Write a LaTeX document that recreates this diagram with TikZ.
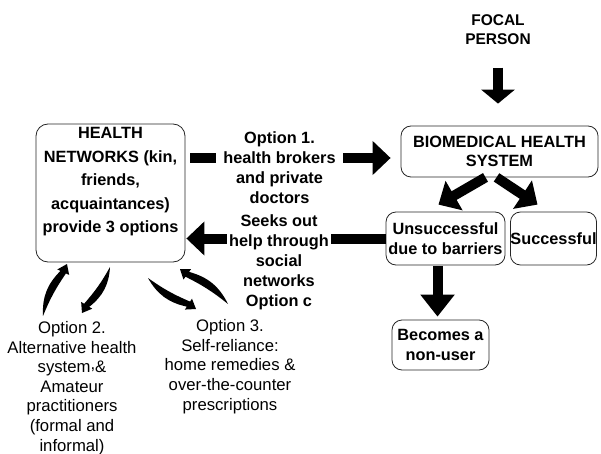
\documentclass[tikz,border=0pt]{standalone}
\usepackage{fontspec}
\setmainfont{Liberation Sans}
\usetikzlibrary{arrows.meta,calc}

\tikzset{
  box/.style={draw=black!85, line width=0.8pt, rounded corners=10pt, align=center},
  fat/.style={line width=10pt, -{Triangle[length=#1,width=33pt]}},
  fat/.default=18pt,
  btxt/.style={font=\fontsize{16.3}{20}\selectfont\bfseries, align=center},
  ptxt/.style={font=\fontsize{16.7}{19.6}\selectfont, align=center},
}

% curved crescent arrow: tail, tip, outer bend, inner bend
\newcommand{\crescent}[4]{%
  \path ($(#2)!9pt!(#1)$) coordinate (cb);
  \fill (#1) to[bend left=#3] ($(cb)!3pt!90:(#2)$) -- ($(cb)!6.5pt!90:(#2)$)
    -- (#2) -- ($(cb)!6.5pt!270:(#2)$) -- ($(cb)!3pt!270:(#2)$) to[bend right=#4] (#1);}

\begin{document}
\begin{tikzpicture}[x=1pt,y=1pt]
  \useasboundingbox (0,0) rectangle (601,-454);

  % boxes
  \node[box, minimum width=149pt, minimum height=138pt, rounded corners=12pt] (hnet) at (110.5,-193) {};
  \node[btxt, font=\fontsize{16.3}{23.5}\selectfont\bfseries] (hnettxt) at (110.5,-182)
    {HEALTH\\NETWORKS (kin,\\friends,\\acquaintances)\\provide 3 options};

  \node[btxt, font=\fontsize{15.5}{19}\selectfont\bfseries] (focal) at (498,-30) {FOCAL\\PERSON};
  \node[box, btxt, font=\fontsize{16.3}{19}\selectfont\bfseries, minimum width=197pt, minimum height=51pt]
    (bio) at (499.5,-151.5) {BIOMEDICAL HEALTH\\SYSTEM};
  \node[box, btxt, minimum width=119pt, minimum height=53pt, inner xsep=1pt] (unsucc) at (445.5,-238.5)
    {Unsuccessful\\due to barriers};
  \node[box, btxt, minimum width=85pt, minimum height=53pt, inner xsep=0pt] (succ) at (553.5,-238.5) {Successful};
  \node[box, btxt, minimum width=97pt, minimum height=50pt] (nonuser) at (440.5,-345) {Becomes a\\non-user};

  \node[ptxt] (opt2) at (72,-388)
    {Option 2.\\Alternative health\\system\raisebox{3pt}{,}\&\\Amateur\\practitioners\\(formal and\\informal)};
  \node[ptxt] (opt3) at (230,-366.5)
    {Option 3.\\Self-reliance:\\home remedies \&\\over-the-counter\\prescriptions};

  % fat arrows
  \coordinate (o1) at (0,-158);
  \coordinate (o2) at (437.5,0);
  \draw[fat, shorten <=5pt, shorten >=10pt] (hnet.east |- o1) -- (bio.west |- o1);
  \draw[fat, shorten >=1pt] (unsucc.west) -- (unsucc.west -| hnet.east);
  \draw[fat=14pt, shorten <=19pt, shorten >=22pt] (focal.south) -- (focal.south |- bio.north);
  \draw[fat] ([xshift=-14pt]bio.south) -- ([xshift=-7pt,yshift=7pt]unsucc.north);
  \draw[fat] ([xshift=-3pt]bio.south) -- ([xshift=-16pt,yshift=7pt]succ.north);
  \draw[fat=22pt, shorten <=1pt, shorten >=3pt] (unsucc.south -| o2) -- (nonuser.north -| o2);

  % labels on the arrows
  \node[btxt, fill=white, inner xsep=7pt, inner ysep=0pt] (opt1) at (279.5,-168)
    {Option 1.\\health brokers\\and private\\doctors};
  \node[btxt, fill=white, inner xsep=2.5pt, inner ysep=0pt] (optc) at (279,-262)
    {Seeks out\\help through\\social\\networks\\Option c};

  % curved arrows under the networks box
  \coordinate (a1) at (43,-316);  \coordinate (a2) at (67,-264);
  \coordinate (b1) at (110,-267); \coordinate (b2) at (82,-313);
  \coordinate (c1) at (148,-278); \coordinate (c2) at (196,-309);
  \coordinate (d1) at (228,-304); \coordinate (d2) at (180,-269);
  \crescent{a1}{a2}{24}{6}
  \crescent{b1}{b2}{24}{6}
  \crescent{c1}{c2}{-6}{-24}
  \crescent{d1}{d2}{-6}{-24}
\end{tikzpicture}
\end{document}
